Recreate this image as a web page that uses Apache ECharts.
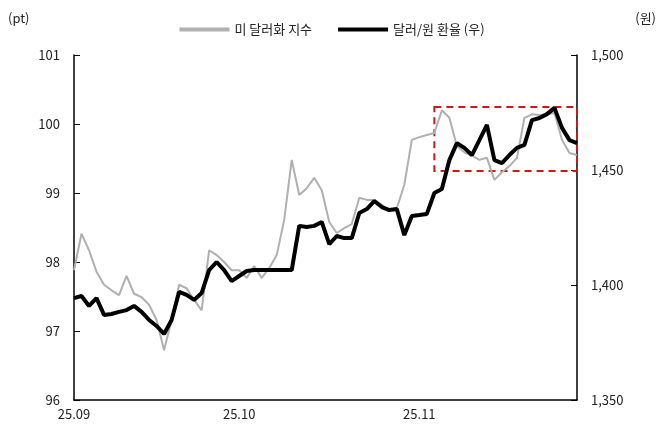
<!DOCTYPE html>
<html><head><meta charset="utf-8">
<script src="https://cdn.jsdelivr.net/npm/echarts@6/dist/echarts.min.js"></script>
<style>html,body{margin:0;padding:0;background:#fff}#c{width:664px;height:444px}</style>
</head><body><div id="c"></div>
<script>
const tickLabels = {0:'25.09',22:'25.10',46:'25.11'};
const dxy = [97.88,98.41,98.17,97.86,97.67,97.59,97.52,97.80,97.54,97.49,97.38,97.16,96.72,97.16,97.67,97.62,97.45,97.30,98.17,98.10,98.00,97.88,97.88,97.77,97.94,97.77,97.91,98.10,98.61,99.48,98.97,99.07,99.22,99.04,98.58,98.42,98.49,98.55,98.93,98.90,98.90,98.83,98.75,98.78,99.12,99.77,99.81,99.84,99.87,100.20,100.09,99.68,99.59,99.54,99.48,99.51,99.19,99.30,99.39,99.51,100.09,100.14,100.13,100.14,100.16,99.77,99.58,99.55];
const krw = [1394.3,1395.2,1390.9,1394.3,1387.0,1387.4,1388.3,1389.1,1390.9,1388.3,1384.8,1382.2,1378.7,1384.8,1397.0,1395.7,1393.5,1396.5,1406.5,1410.0,1406.5,1401.7,1403.9,1406.1,1406.5,1406.5,1406.5,1406.5,1406.5,1406.5,1425.7,1425.2,1425.7,1427.4,1417.8,1421.3,1420.4,1420.4,1431.3,1433.0,1436.5,1433.9,1432.6,1433.0,1421.7,1430.0,1430.4,1430.9,1440.0,1441.7,1454.3,1461.7,1459.6,1456.5,1463.0,1469.6,1454.3,1453.0,1456.5,1459.6,1460.9,1471.7,1472.6,1474.3,1477.0,1468.3,1463.0,1461.7];
const categories = dxy.map((_, i) => tickLabels[i] || String(i));
const boxX = [48, 67], boxY = [1477.4, 1449.6];
const font = "'Noto Sans CJK KR', sans-serif";
const chart = echarts.init(document.getElementById('c'));
chart.setOption({
  animation: false,
  textStyle: {fontFamily: font},
  legend: {top: 18, left: 'center', itemWidth: 50, itemHeight: 4, itemGap: 26,
    textStyle: {fontSize: 13, color: '#222', fontFamily: font},
    data: [{name: '미 달러화 지수', icon: 'rect'}, {name: '달러/원 환율 (우)', icon: 'rect'}]},
  grid: {left: 74, right: 87, top: 55, bottom: 44},
  graphic: [
    {type: 'text', left: 8, top: 12, style: {text: '(pt)', fontSize: 13, fill: '#222', fontFamily: font}},
    {type: 'text', right: 8, top: 12, style: {text: '(원)', fontSize: 13, fill: '#222', fontFamily: font}}
  ],
  xAxis: {type: 'category', data: categories, boundaryGap: false,
    axisLine: {lineStyle: {color: '#000', width: 1.5}}, axisTick: {show: false},
    axisLabel: {interval: (i) => !!tickLabels[i], formatter: (v) => tickLabels[categories.indexOf(v)] || '', fontSize: 13, color: '#222', margin: 8}},
  yAxis: [
    {type: 'value', min: 96, max: 101, interval: 1, splitLine: {show: false},
     axisLine: {show: true, lineStyle: {color: '#000', width: 1.5}},
     axisTick: {show: true, inside: true, length: 6, lineStyle: {color: '#000'}},
     axisLabel: {fontSize: 13, color: '#222', margin: 14}},
    {type: 'value', min: 1350, max: 1500, interval: 50, splitLine: {show: false},
     axisLine: {show: true, lineStyle: {color: '#000', width: 1.5}},
     axisTick: {show: true, inside: true, length: 6, lineStyle: {color: '#000'}},
     axisLabel: {fontSize: 13, color: '#222', margin: 14, formatter: (v) => v.toLocaleString('en-US')}}
  ],
  series: [
    {name: '미 달러화 지수', type: 'line', data: dxy, yAxisIndex: 0, symbol: 'none',
     lineStyle: {color: '#b0b0b0', width: 2}, itemStyle: {color: '#b0b0b0'}},
    {name: '달러/원 환율 (우)', type: 'line', data: krw, yAxisIndex: 1, symbol: 'none', z: 3,
     lineStyle: {color: '#000', width: 4}, itemStyle: {color: '#000'},
     markArea: {silent: true, itemStyle: {color: 'rgba(0,0,0,0)', borderColor: '#d01818', borderWidth: 2, borderType: [7, 5]},
       data: [[{xAxis: categories[boxX[0]], yAxis: boxY[0]}, {xAxis: categories[boxX[1]], yAxis: boxY[1]}]]}}
  ]
});
</script></body></html>
